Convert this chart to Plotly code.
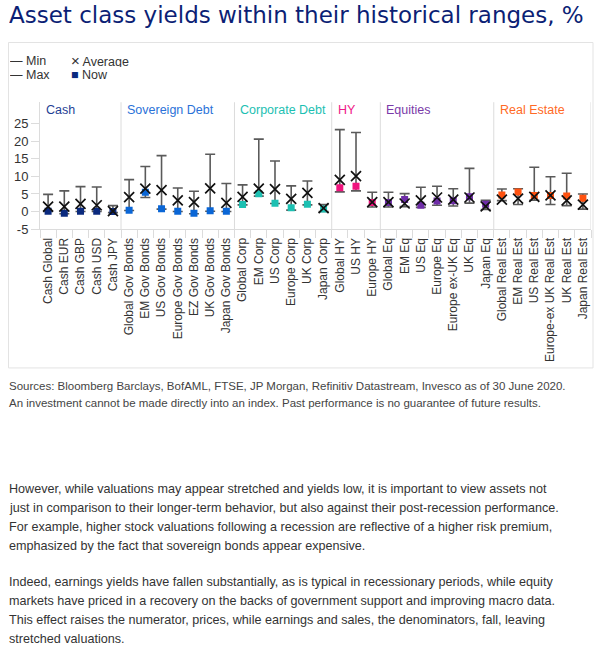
import plotly.graph_objects as go

W, H = 602, 652

groups = ["Cash", "Sovereign Debt", "Corporate Debt", "HY", "Equities", "Real Estate"]
group_sizes = [5, 7, 6, 3, 7, 6]
now_colors = ["#0b2a7e", "#0a66d6", "#1cc0b2", "#f0147e", "#6f2da8", "#ff5210"]
label_colors = ["#1f3f95", "#2b72d8", "#1cc0b2", "#ef1a88", "#7a3aa8", "#ff6a25"]

categories = [
    "Cash Global", "Cash EUR", "Cash GBP", "Cash USD", "Cash JPY",
    "Global Gov Bonds", "EM Gov Bonds", "US Gov Bonds", "Europe Gov Bonds",
    "EZ Gov Bonds", "UK Gov Bonds", "Japan Gov Bonds",
    "Global Corp", "EM Corp", "US Corp", "Europe Corp", "UK Corp", "Japan Corp",
    "Global HY", "US HY", "Europe HY",
    "Global Eq", "EM Eq", "US Eq", "Europe Eq", "Europe ex-UK Eq", "UK Eq", "Japan Eq",
    "Global Real Est", "EM Real Est", "US Real Est", "Europe-ex UK Real Est",
    "UK Real Est", "Japan Real Est",
]
min_vals = [0.0, -0.6, 0.0, 0.0, -0.3,
            0.3, 4.0, 0.7, 0.0, -0.6, 0.1, 0.0,
            1.9, 4.4, 2.3, 0.4, 1.9, 0.0,
            5.6, 5.9, 1.3,
            1.3, 1.4, 1.2, 1.8, 1.6, 2.4, 0.6,
            3.1, 2.0, 3.2, 2.0, 1.7, 0.7]
max_vals = [4.9, 5.9, 7.1, 7.0, 1.7,
            9.1, 12.8, 15.9, 6.7, 5.8, 16.3, 8.0,
            7.6, 20.6, 14.4, 7.3, 8.7, 2.0,
            23.3, 22.5, 5.5,
            5.5, 5.1, 6.9, 7.2, 6.5, 12.3, 3.2,
            6.4, 6.5, 12.6, 9.9, 10.9, 5.0]
avg_vals = [1.4, 1.4, 2.2, 1.8, 0.1,
            4.1, 6.5, 6.1, 3.2, 2.7, 6.6, 2.5,
            4.2, 6.5, 6.4, 3.6, 5.3, 1.0,
            9.0, 10.1, 2.7,
            2.7, 2.3, 3.2, 4.0, 3.4, 4.0, 1.5,
            3.4, 3.7, 4.2, 4.6, 3.2, 2.0]
now_vals = [0.1, -0.5, 0.1, 0.1, 0.0,
            0.4, 5.5, 0.8, 0.1, -0.5, 0.2, 0.1,
            2.0, 5.1, 2.4, 1.1, 2.1, 0.7,
            6.8, 7.2, 2.6,
            2.6, 3.4, 1.8, 3.0, 3.1, 4.2, 2.1,
            4.7, 5.6, 4.6, 4.6, 4.4, 3.8]
y_ticks = [-5, 0, 5, 10, 15, 20, 25]
y_ticktext = ["-5", "0", "5", "10", "15", "20", "25"]

title_text = "Asset class yields within their historical ranges, %"
source_lines = [
    "Sources: Bloomberg Barclays, BofAML, FTSE, JP Morgan, Refinitiv Datastream, Invesco as of 30 June 2020.",
    "An investment cannot be made directly into an index. Past performance is no guarantee of future results.",
]
para1 = [
    "However, while valuations may appear stretched and yields low, it is important to view assets not",
    "just in comparison to their longer-term behavior, but also against their post-recession performance.",
    "For example, higher stock valuations following a recession are reflective of a higher risk premium,",
    "emphasized by the fact that sovereign bonds appear expensive.",
]
para2 = [
    "Indeed, earnings yields have fallen substantially, as is typical in recessionary periods, while equity",
    "markets have priced in a recovery on the backs of government support and improving macro data.",
    "This effect raises the numerator, prices, while earnings and sales, the denominators, fall, leaving",
    "stretched valuations.",
]

cat_colors = []
for c, n in zip(now_colors, group_sizes):
    cat_colors += [c] * n

FONT = "Liberation Sans, Arial, sans-serif"
GRID = "#dcdcdc"


def px_y(py):  # page pixel -> paper fraction
    return 1 - py / H


def px_x(px):
    return px / W


mid = [(a + b) / 2 for a, b in zip(min_vals, max_vals)]
half = [(b - a) / 2 for a, b in zip(min_vals, max_vals)]

fig = go.Figure()
fig.add_trace(go.Scatter(
    x=categories, y=mid, mode="markers",
    marker=dict(size=1, color="rgba(0,0,0,0)"),
    error_y=dict(type="data", array=half, symmetric=True, color="#5a5a5a",
                 thickness=1.6, width=5),
    showlegend=False, hoverinfo="skip"))
fig.add_trace(go.Scatter(
    x=categories, y=now_vals, mode="markers",
    marker=dict(symbol="square", size=7, color=cat_colors, line=dict(width=0)),
    showlegend=False, name="Now"))
fig.add_trace(go.Scatter(
    x=categories, y=avg_vals, mode="markers",
    marker=dict(symbol="x-thin", size=10, line=dict(width=1.7, color="#111111")),
    showlegend=False, name="Average"))

plot_l, plot_r, plot_t, plot_b = 40, 591, 103.5, 232
fig.update_layout(
    width=W, height=H,
    margin=dict(l=0, r=0, t=0, b=0),
    paper_bgcolor="white", plot_bgcolor="white",
    font=dict(family=FONT, size=12, color="#333333"),
    xaxis=dict(domain=[px_x(plot_l), px_x(plot_r)], type="category",
               tickangle=-90, tickson="boundaries", ticks="outside", ticklen=8,
               tickcolor=GRID, showline=True, linecolor=GRID, linewidth=1,
               showgrid=False, tickfont=dict(size=12, color="#333333"),
               ticklabelstandoff=3,
               range=[-0.5, len(categories) - 0.5], fixedrange=True),
    yaxis=dict(domain=[px_y(plot_b), px_y(plot_t)], range=[-5, 31.1],
               tickvals=y_ticks, ticktext=y_ticktext, ticks="outside", ticklen=8,
               tickcolor=GRID, showline=True, linecolor=GRID, showgrid=False,
               zeroline=False, tickfont=dict(size=13, color="#333333"),
               fixedrange=True),
)

shapes = [dict(type="rect", xref="paper", yref="paper",
               x0=px_x(8.5), x1=px_x(593), y0=px_y(372.5), y1=px_y(43),
               line=dict(color="#e3e3e3", width=1))]
annotations = []
start = -0.5
for g, n, lc in zip(groups, group_sizes, label_colors):
    annotations.append(dict(text=g, xref="x", yref="paper", x=start, y=px_y(111),
                            xanchor="left", yanchor="middle", xshift=4,
                            showarrow=False, font=dict(size=12.5, color=lc)))
    start += n
    shapes.append(dict(type="line", xref="x", yref="paper", x0=start, x1=start,
                       y0=px_y(plot_b), y1=px_y(plot_t),
                       line=dict(color=GRID, width=1)))

leg = [("— Min", 8, 61), ("— Max", 8, 75),
       ("<span style='font-size:15px'>×</span> Average", 69, 61),
       ("<span style='color:%s'>■</span> Now" % now_colors[0], 69, 75)]
for t, x, y in leg:
    annotations.append(dict(text=t, xref="paper", yref="paper", x=px_x(x), y=px_y(y),
                            xanchor="left", yanchor="middle", showarrow=False,
                            height=13, font=dict(size=12.5, color="#333333")))

annotations.append(dict(text=title_text, xref="paper", yref="paper", x=px_x(7), y=px_y(15),
                        xanchor="left", yanchor="middle", showarrow=False, height=27,
                        font=dict(family="DejaVu Sans, sans-serif", size=23, color="#0c1f75")))
for i, t in enumerate(source_lines):
    annotations.append(dict(text=t, xref="paper", yref="paper", x=px_x(7), y=px_y(390.5 + 17 * i),
                            xanchor="left", yanchor="middle", showarrow=False,
                            font=dict(size=11.5, color="#444444")))
for i, t in enumerate(para1):
    annotations.append(dict(text=t, xref="paper", yref="paper", x=px_x(7), y=px_y(495 + 19.2 * i),
                            xanchor="left", yanchor="middle", showarrow=False,
                            font=dict(size=12.6, color="#333333")))
for i, t in enumerate(para2):
    annotations.append(dict(text=t, xref="paper", yref="paper", x=px_x(7), y=px_y(589 + 19.2 * i),
                            xanchor="left", yanchor="middle", showarrow=False,
                            font=dict(size=12.6, color="#333333")))

fig.update_layout(shapes=shapes, annotations=annotations)
fig.write_html("out.html", config={"displayModeBar": False},
               post_script="document.body.style.margin='0';document.body.style.overflow='hidden';")
